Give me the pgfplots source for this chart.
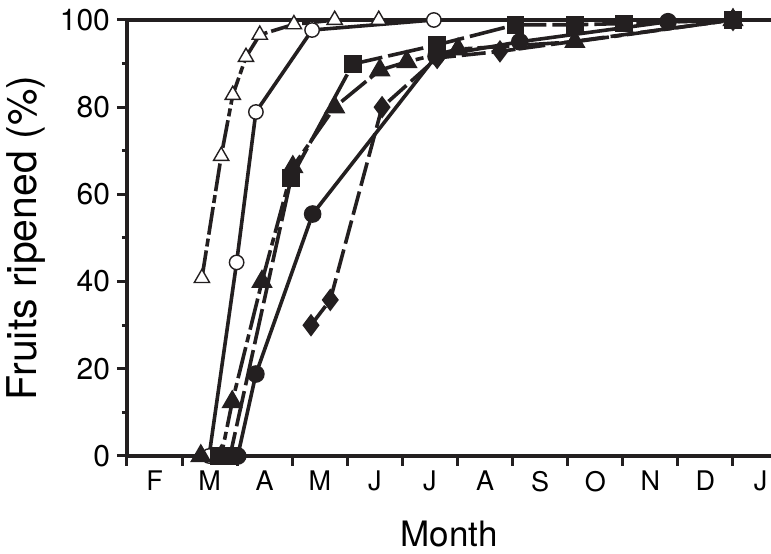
\documentclass[border=0pt]{standalone}
\usepackage{fontspec}
\setmainfont{TeX Gyre Heros}
\usepackage{pgfplots}
\pgfplotsset{compat=1.18}
\usetikzlibrary{calc}
\definecolor{ink}{RGB}{35,31,32}

\pgfplotsset{
  ser/.style={ink, line width=1.8pt},
  otri/.style={ser, dash pattern=on 14pt off 2pt on 4pt off 2pt,
    mark=triangle*, mark size=4.4pt, mark options={solid, fill=white, draw=ink, line width=0.7pt}},
  ocirc/.style={ser, mark=*, mark size=3.6pt, mark options={solid, fill=white, draw=ink, line width=0.7pt}},
  fsq/.style={ser, dash pattern=on 18pt off 3pt,
    mark=square*, mark size=3.5pt, mark options={solid, fill=ink, draw=ink}},
  ftri/.style={ser, dash pattern=on 16pt off 2.5pt on 4pt off 2.5pt,
    mark=triangle*, mark size=4.4pt, mark options={solid, fill=ink, draw=ink}},
  fcirc/.style={ser, mark=*, mark size=3.5pt, mark options={solid, fill=ink, draw=ink}},
  fdia/.style={ser, dash pattern=on 12pt off 3pt,
    mark=diamond*, mark size=4.2pt, mark options={solid, fill=ink, draw=ink}},
}

\begin{document}
\begin{tikzpicture}
\begin{axis}[
    name=ax,
    scale only axis,
    width=322pt, height=218pt,
    xmin=0, xmax=11.69,
    ymin=0, ymax=100,
    axis x line=box, axis y line=left,
    axis line style={-, line width=1.8pt, ink},
    tick style={line width=1.5pt, ink},
    tick align=outside,
    xtick pos=left, ytick pos=left,
    major tick length=5pt, minor tick length=2.6pt,
    xtick={0,...,11},
    xticklabels={F,M,A,M,J,J,A,S,O,N,D,J},
    x tick label style={xshift=13.77pt, yshift=1pt, font=\fontsize{13.5}{15}\selectfont},
    ytick={0,20,...,100},
    minor y tick num=1,
    y tick label style={font=\fontsize{15}{17}\selectfont},
    /pgf/number format/assume math mode=true,
    clip=false,
]
  % open triangles
  \addplot[otri] coordinates {(1.36,40.8) (1.71,68.8) (1.92,82.8) (2.16,91.5)
                              (2.41,96.6) (3.03,99) (3.77,100) (4.57,100)};
  % open circles
  \addplot[ocirc] coordinates {(1.49,0) (1.99,44.4) (2.34,78.9) (3.36,97.7) (5.57,100)};
  % filled diamonds
  \addplot[fdia] coordinates {(3.34,30) (3.69,35.8) (4.63,80) (5.63,91.3)
                              (6.77,92.8) (11,100)};
  % filled circles
  \addplot[fcirc] coordinates {(2.01,0) (2.34,18.8) (3.37,55.5) (5.61,91.7)
                               (7.13,95) (9.82,99.6) (11,100)};
  % filled triangles
  \addplot[ftri] coordinates {(1.34,0) (1.71,0) (1.91,12.4) (2.45,40) (3.01,66.3)
                              (3.77,80) (4.59,88.5) (5.08,90.4) (6.01,93.3)
                              (8.13,95) (11,100)};
  % filled squares
  \addplot[fsq] coordinates {(1.66,0) (1.87,0) (2.98,63.8) (4.10,89.9) (5.63,94.3)
                             (7.05,98.9) (8.13,98.9) (9.02,99.2) (11,100)};
\end{axis}
\node[font=\fontsize{17.5}{19}\selectfont] at ($(ax.south)+(0,-39pt)$) {Month};
\node[rotate=90, font=\fontsize{20.5}{22}\selectfont] at ($(ax.west)+(-50.5pt,0)$) {Fruits ripened (\%)};
\pgfresetboundingbox
\path[use as bounding box] ($(ax.south west)+(-63.5pt,-49pt)$) rectangle ($(ax.north east)+(0pt,10pt)$);
\end{tikzpicture}
\end{document}
